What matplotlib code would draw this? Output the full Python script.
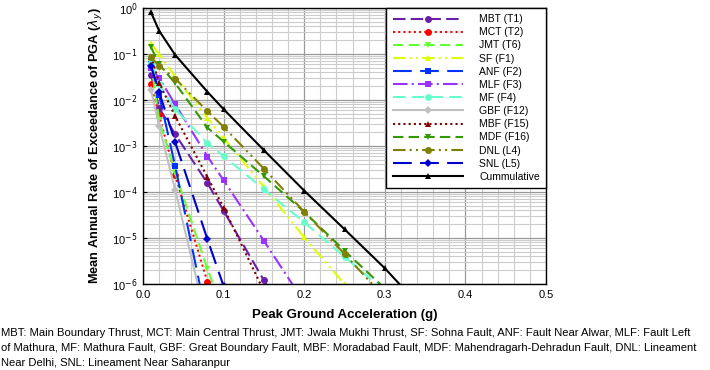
import numpy as np
from matplotlib import pyplot as plt
from matplotlib.ticker import LogLocator, MultipleLocator, NullFormatter

nan = np.nan

pga = [0.01, 0.02, 0.04, 0.08, 0.1, 0.15, 0.2, 0.25, 0.3, 0.35]

mbt = [0.035, 6.7e-3, 1.8e-3, 1.55e-4, 3.9e-5, 1.2e-6, 3e-8, nan, nan, nan]
mct = [0.022, 4.7e-3, 2.3e-4, 1.1e-6, 1.5e-7, nan, nan, nan, nan, nan]
jmt = [0.065, 3.7e-3, 2.6e-4, 2.1e-6, 2.5e-7, nan, nan, nan, nan, nan]
sf = [0.17, 0.1, 0.032, 4e-3, 1.5e-3, 1.3e-4, 1.03e-5, 1e-6, 1e-7, nan]
anf = [0.06, 0.013, 3.6e-4, 1.5e-7, nan, nan, nan, nan, nan, nan]
mlf = [0.05, 0.03, 8e-3, 5.9e-4, 1.8e-4, 8.7e-6, 4e-7, nan, nan, nan]
mf = [0.065, 0.022, 6.3e-3, 1.15e-3, 6e-4, 1.15e-4, 2.2e-5, 3.9e-6, 7e-7, nan]
gbf = [0.0165, 2.7e-3, 1.1e-4, 1.3e-7, nan, nan, nan, nan, nan, nan]
mbf = [0.088, 0.024, 4.4e-3, 2.1e-4, 4.6e-5, 7e-7, nan, nan, nan, nan]
mdf = [0.14, 0.06, 0.023, 2.5e-3, 1.25e-3, 2.2e-4, 3.7e-5, 5.3e-6, 8e-7, nan]
dnl = [0.085, 0.055, 0.029, 5.7e-3, 2.6e-3, 3.2e-4, 3.7e-5, 4.5e-6, 5e-7, nan]
snl = [0.055, 0.015, 1.2e-3, 9.3e-6, 9e-7, nan, nan, nan, nan, nan]
cumul = [0.8, 0.32, 0.095, 0.015, 6.3e-3, 8.1e-4, 1.07e-4, 1.55e-5, 2.2e-6, 2.5e-7]

noms = ['MBT (T1)', 'MCT (T2)', 'JMT (T6)', 'SF (F1)', 'ANF (F2)', 'MLF (F3)',
        'MF (F4)', 'GBF (F12)', 'MBF (F15)', 'MDF (F16)', 'DNL (L4)', 'SNL (L5)',
        'Cummulative']

series = [mbt, mct, jmt, sf, anf, mlf, mf, gbf, mbf, mdf, dnl, snl, cumul]

styles = [
    ('#6a1fa8', (0, (6, 2.5)), 'o'),
    ('#ff0000', (0, (1, 1.5)), 'o'),
    ('#66ff33', (0, (5, 2.5)), 'v'),
    ('#ddff00', (0, (6, 2, 1, 2, 1, 2)), '^'),
    ('#0033ff', (0, (9, 4)), 's'),
    ('#9933ff', (0, (7, 2, 1, 2)), 's'),
    ('#66ffcc', (0, (6, 3)), 'o'),
    ('#c0c0c0', '-', 'D'),
    ('#800000', (0, (1, 1.5)), '^'),
    ('#339900', (0, (5, 2.5)), 'v'),
    ('#808000', (0, (6, 2, 1, 2, 1, 2)), 'o'),
    ('#0000cc', (0, (9, 4)), 'D'),
    ('black', '-', '^'),
]

plt.rcParams['font.family'] = ['Liberation Sans', 'DejaVu Sans']

fig = plt.figure(figsize=(7.1, 3.7), dpi=100)
ax = fig.add_axes([143 / 710, 1 - 284 / 370, 403 / 710, 276 / 370])

for vals, nom, (couleur, ls, mk) in zip(series, noms, styles):
    ax.plot(pga, vals, color=couleur, linestyle=ls, linewidth=1.5,
            marker=mk, markersize=4.2 if mk == 'D' else 5, markeredgewidth=0, label=nom)

ax.set_yscale('log')
ax.set_xlim(0, 0.5)
ax.set_ylim(1e-6, 1)
ax.xaxis.set_major_locator(MultipleLocator(0.1))
ax.xaxis.set_minor_locator(MultipleLocator(0.02))
ax.yaxis.set_major_locator(LogLocator(base=10, numticks=10))
ax.yaxis.set_minor_locator(LogLocator(base=10, subs=np.arange(2, 10), numticks=100))
ax.yaxis.set_minor_formatter(NullFormatter())
ax.xaxis.set_major_formatter(lambda v, p: f'{v:.1f}')
ax.yaxis.set_major_formatter(lambda v, p: f'10$^{{{int(round(np.log10(v)))}}}$')

ax.grid(which='major', color='#999999', linewidth=0.9)
ax.grid(which='minor', color='#cccccc', linewidth=0.8)
ax.set_axisbelow(True)
ax.tick_params(which='both', length=0, labelsize=8, pad=4)
ax.tick_params(axis='y', which='major', length=3, direction='in')
for s in ax.spines.values():
    s.set_color('black')
    s.set_linewidth(1)

ax.set_xlabel('Peak Ground Acceleration (g)', fontsize=9.5, fontweight='bold', labelpad=7)
ax.set_ylabel(r'Mean Annual Rate of Exceedance of PGA ($\lambda_y$)', fontsize=9.2,
              fontweight='bold', labelpad=5)

leg = ax.legend(loc='upper right', bbox_to_anchor=(1, 1), borderaxespad=0,
                fontsize=7.5, handlelength=6.8, handletextpad=1.5, labelspacing=0.3,
                fancybox=False, framealpha=1, borderpad=0.6)
leg.get_frame().set_edgecolor('black')
leg.get_frame().set_linewidth(1)

legende = ('MBT: Main Boundary Thrust, MCT: Main Central Thrust, JMT: Jwala Mukhi Thrust, '
           'SF: Sohna Fault, ANF: Fault Near Alwar, MLF: Fault Left\n'
           'of Mathura, MF: Mathura Fault, GBF: Great Boundary Fault, MBF: Moradabad Fault, '
           'MDF: Mahendragarh-Dehradun Fault, DNL: Lineament\n'
           'Near Delhi, SNL: Lineament Near Saharanpur')
fig.text(0.002, 1 - 328 / 370, legende, fontsize=8.1, va='top', ha='left', linespacing=1.6)

fig.savefig('out.png', dpi=100)
